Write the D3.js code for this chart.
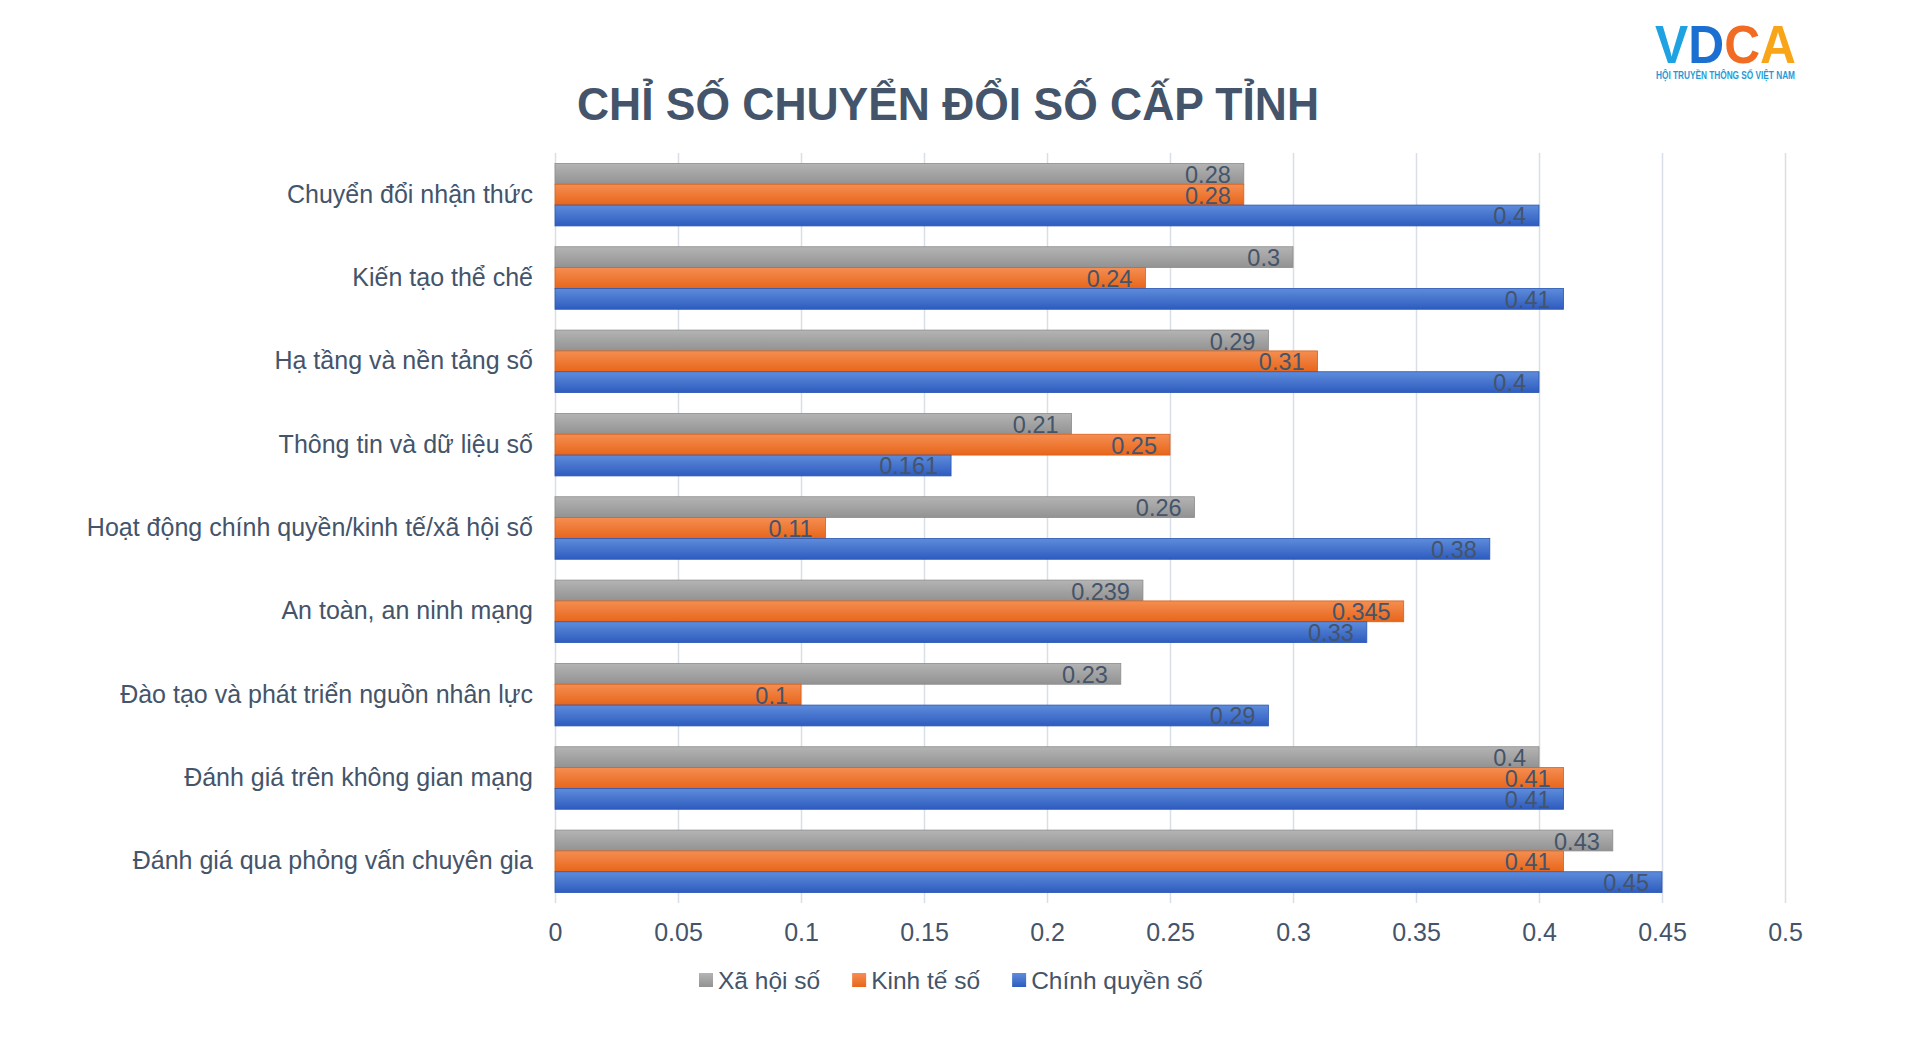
<!DOCTYPE html>
<html>
<head>
<meta charset="utf-8">
<script src="https://cdn.jsdelivr.net/npm/d3@7"></script>
<style>
  html, body { margin: 0; padding: 0; background: #fff; }
  svg { display: block; font-family: "Liberation Sans", Arial, sans-serif; }
</style>
</head>
<body>
<svg id="chart" width="1920" height="1056"></svg>
<script>
// data
var categories = [
    "Chuyển đổi nhận thức",
    "Kiến tạo thể chế",
    "Hạ tầng và nền tảng số",
    "Thông tin và dữ liệu số",
    "Hoạt động chính quyền/kinh tế/xã hội số",
    "An toàn, an ninh mạng",
    "Đào tạo và phát triển nguồn nhân lực",
    "Đánh giá trên không gian mạng",
    "Đánh giá qua phỏng vấn chuyên gia"
];
var seriesNames = ["Xã hội số", "Kinh tế số", "Chính quyền số"];
var xaHoiSo = [0.28, 0.3, 0.29, 0.21, 0.26, 0.239, 0.23, 0.4, 0.43];
var kinhTeSo = [0.28, 0.24, 0.31, 0.25, 0.11, 0.345, 0.1, 0.41, 0.41];
var chinhQuyenSo = [0.4, 0.41, 0.4, 0.161, 0.38, 0.33, 0.29, 0.41, 0.45];
var xTicks = [0, 0.05, 0.1, 0.15, 0.2, 0.25, 0.3, 0.35, 0.4, 0.45, 0.5];

var textColor = "#44546A";
var gradients = [
    { id: "g-gray", top: "#b4b4b4", bottom: "#929292", stroke: "#8c8c8c" },
    { id: "g-orange", top: "#f58e52", bottom: "#e7661a", stroke: "#d8601a" },
    { id: "g-blue", top: "#5e8cdb", bottom: "#2e5cbf", stroke: "#2a55b3" }
];

var seriesValues = [xaHoiSo, kinhTeSo, chinhQuyenSo];
var rows = categories.map(function (c, i) {
    return { name: c, values: seriesValues.map(function (s) { return s[i]; }) };
});

var svg = d3.select("#chart");
var defs = svg.append("defs");
gradients.forEach(function (g) {
    var lg = defs.append("linearGradient").attr("id", g.id)
        .attr("x1", 0).attr("y1", 0).attr("x2", 0).attr("y2", 1);
    lg.append("stop").attr("offset", "0%").attr("stop-color", g.top);
    lg.append("stop").attr("offset", "100%").attr("stop-color", g.bottom);
});

var margin = { top: 153, left: 555, right: 135, bottom: 153 };
var width = 1920 - margin.left - margin.right;
var height = 903 - margin.top;

var x = d3.scaleLinear().domain([0, 0.5]).range([0, width]);
var y0 = d3.scaleBand().domain(categories).range([0, height])
    .paddingInner(0.25).paddingOuter(0.125);
var y1 = d3.scaleBand().domain(d3.range(seriesNames.length)).range([0, y0.bandwidth()]);

var g = svg.append("g").attr("transform", "translate(" + margin.left + "," + margin.top + ")");

// grid + x tick labels
var xAxis = g.append("g").attr("transform", "translate(0," + height + ")")
    .call(d3.axisBottom(x).tickValues(xTicks).tickFormat(function (d) { return String(d); })
        .tickSize(-height).tickPadding(20));
xAxis.select(".domain").remove();
xAxis.selectAll(".tick line").attr("stroke", "#d9dfe7").attr("stroke-width", 1.5);
xAxis.selectAll(".tick text").attr("fill", textColor).attr("font-size", 25)
    .attr("font-family", "Liberation Sans, Arial, sans-serif");

// category labels
var yAxis = g.append("g")
    .call(d3.axisLeft(y0).tickSize(0).tickPadding(22));
yAxis.select(".domain").remove();
yAxis.selectAll(".tick text").attr("fill", textColor).attr("font-size", 25)
    .attr("font-family", "Liberation Sans, Arial, sans-serif");

// bars
var groups = g.selectAll(".group").data(rows).enter().append("g")
    .attr("class", "group")
    .attr("transform", function (d) { return "translate(0," + y0(d.name) + ")"; });

groups.selectAll("rect").data(function (d) { return d.values; }).enter().append("rect")
    .attr("x", x(0))
    .attr("y", function (d, i) { return y1(i); })
    .attr("width", function (d) { return x(d) - x(0); })
    .attr("height", y1.bandwidth())
    .attr("fill", function (d, i) { return "url(#" + gradients[i].id + ")"; })
    .attr("stroke", function (d, i) { return gradients[i].stroke; })
    .attr("stroke-width", 0.8);

groups.selectAll("text.val").data(function (d) { return d.values; }).enter().append("text")
    .attr("class", "val")
    .attr("x", function (d) { return x(d) - 13; })
    .attr("y", function (d, i) { return y1(i) + y1.bandwidth() / 2 + 1; })
    .attr("text-anchor", "end")
    .attr("dominant-baseline", "central")
    .attr("fill", textColor)
    .attr("font-size", 23.5)
    .text(function (d) { return String(d); });

// title
svg.append("text")
    .attr("x", 948).attr("y", 120)
    .attr("text-anchor", "middle")
    .attr("font-size", 47).attr("font-weight", "bold")
    .attr("fill", textColor)
    .attr("textLength", 742).attr("lengthAdjust", "spacingAndGlyphs")
    .text("CHỈ SỐ CHUYỂN ĐỔI SỐ CẤP TỈNH");

// legend
var legend = svg.append("g").attr("transform", "translate(699,980)");
var lx = 0;
seriesNames.forEach(function (name, i) {
    var item = legend.append("g").attr("transform", "translate(" + lx + ",0)");
    item.append("rect").attr("x", 0).attr("y", -7).attr("width", 14).attr("height", 14)
        .attr("fill", "url(#" + gradients[i].id + ")");
    var t = item.append("text").attr("x", 19).attr("y", 0)
        .attr("dominant-baseline", "central")
        .attr("fill", textColor).attr("font-size", 24.5).text(name);
    lx += 19 + t.node().getComputedTextLength() + 32;
});

// logo
var logo = svg.append("g");
var lt = logo.append("text").attr("x", 1655).attr("y", 63)
    .attr("font-size", 54).attr("font-weight", "bold")
    .attr("textLength", 141).attr("lengthAdjust", "spacingAndGlyphs");
var logoLetters = [["V", "#1fa2e2"], ["D", "#1a6fd0"], ["C", "#f26b22"], ["A", "#f9a51a"]];
logoLetters.forEach(function (l) {
    lt.append("tspan").attr("fill", l[1]).text(l[0]);
});
logo.append("text").attr("x", 1656).attr("y", 79)
    .attr("font-size", 10).attr("font-weight", "bold").attr("fill", "#1e9bd7")
    .attr("textLength", 139).attr("lengthAdjust", "spacingAndGlyphs")
    .text("HỘI TRUYỀN THÔNG SỐ VIỆT NAM");
</script>
</body>
</html>
